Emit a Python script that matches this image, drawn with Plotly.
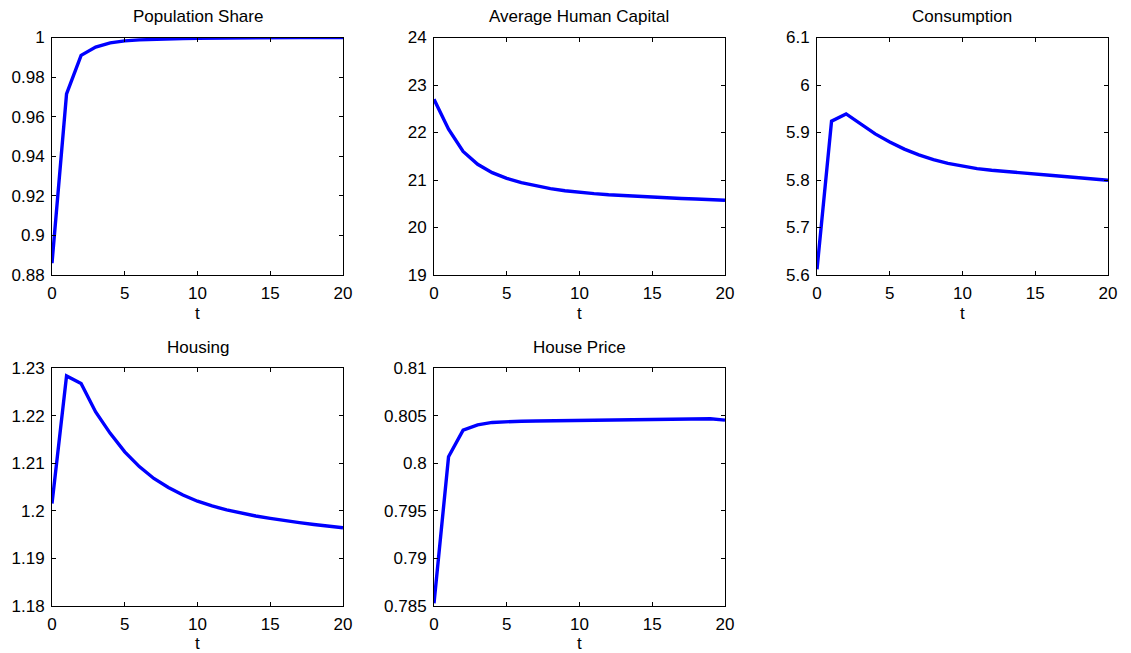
import plotly.graph_objects as go

# page is 1131x653; the browser body margin puts the figure at (8, 8)
PAGE_W, PAGE_H = 1131, 653
OFF = 8
W, H = PAGE_W - OFF, PAGE_H - OFF

t = list(range(21))

population_share = [0.886, 0.9715, 0.9910, 0.9952, 0.9973, 0.9983, 0.9988, 0.99915, 0.9994, 0.9995,
                    0.9996, 0.9997, 0.99975, 0.9998, 0.99985, 0.9999, 0.9999, 0.99995, 0.99995, 1.0, 1.0]
human_capital = [22.70, 22.07, 21.60, 21.33, 21.155, 21.035, 20.943, 20.873, 20.818, 20.775,
                 20.740, 20.713, 20.690, 20.671, 20.655, 20.640, 20.626, 20.612, 20.599, 20.586, 20.574]
consumption = [5.612, 5.924, 5.939, 5.917, 5.897, 5.880, 5.865, 5.853, 5.843, 5.835,
               5.829, 5.824, 5.8205, 5.8175, 5.815, 5.8125, 5.810, 5.8075, 5.805, 5.802, 5.7994]
housing = [1.2015, 1.2284, 1.2268, 1.2208, 1.2163, 1.2124, 1.2093, 1.2068, 1.2049, 1.2033,
           1.2020, 1.2010, 1.2002, 1.1995, 1.1989, 1.1984, 1.1979, 1.1975, 1.1971, 1.1967, 1.1964]
house_price = [0.78525, 0.80068, 0.80349, 0.80405, 0.80430, 0.80440, 0.80443, 0.80445, 0.80447, 0.80449,
               0.80451, 0.80452, 0.80454, 0.80455, 0.80457, 0.80458, 0.80460, 0.80462, 0.80465, 0.80468, 0.80454]

titles = ["Population Share", "Average Human Capital", "Consumption", "Housing", "House Price"]
series = [population_share, human_capital, consumption, housing, house_price]

y_ranges = [[0.88, 1.0], [19, 24], [5.6, 6.1], [1.18, 1.23], [0.785, 0.81]]
y_tickvals = [
    [0.88, 0.90, 0.92, 0.94, 0.96, 0.98, 1.0],
    [19, 20, 21, 22, 23, 24],
    [5.6, 5.7, 5.8, 5.9, 6.0, 6.1],
    [1.18, 1.19, 1.20, 1.21, 1.22, 1.23],
    [0.785, 0.79, 0.795, 0.80, 0.805, 0.81],
]
y_ticktext = [
    ["0.88", "0.9", "0.92", "0.94", "0.96", "0.98", "1"],
    ["19", "20", "21", "22", "23", "24"],
    ["5.6", "5.7", "5.8", "5.9", "6", "6.1"],
    ["1.18", "1.19", "1.2", "1.21", "1.22", "1.23"],
    ["0.785", "0.79", "0.795", "0.8", "0.805", "0.81"],
]
x_tickvals = [0, 5, 10, 15, 20]
x_ticktext = ["0", "5", "10", "15", "20"]

# page-pixel boxes of the axes (left, right, top, bottom)
col_px = [(52, 343), (434, 725), (817, 1108)]
row_px = [(37.5, 275), (368.3, 605.7)]

FONT = "Liberation Sans, Arial, Helvetica, sans-serif"
FS = 17

fig = go.Figure()
annotations = []
layout = {}
for i, (title, ys) in enumerate(zip(titles, series)):
    r, c = divmod(i, 3)
    l, rr = col_px[c]
    top, bot = row_px[r]
    xd = [(l - OFF) / W, (rr - OFF) / W]
    yd = [1 - (bot - OFF) / H, 1 - (top - OFF) / H]
    n = i + 1
    xa = "x" if n == 1 else f"x{n}"
    ya = "y" if n == 1 else f"y{n}"
    fig.add_trace(go.Scatter(x=t, y=ys, mode="lines", line=dict(color="#0000ff", width=3.4),
                             xaxis=xa, yaxis=ya, showlegend=False, hoverinfo="skip"))
    common = dict(showline=True, linecolor="black", linewidth=1, mirror="ticks", ticks="inside",
                  ticklen=4, tickcolor="black", tickwidth=1, showgrid=False, zeroline=False,
                  automargin=False, ticklabelstandoff=3,
                  tickfont=dict(family=FONT, size=FS, color="black"))
    layout["xaxis" if n == 1 else f"xaxis{n}"] = dict(
        domain=xd, range=[0, 20], tickvals=x_tickvals, ticktext=x_ticktext,
        anchor=ya, **common)
    layout["yaxis" if n == 1 else f"yaxis{n}"] = dict(
        domain=yd, range=y_ranges[i], tickvals=y_tickvals[i], ticktext=y_ticktext[i],
        anchor=xa, **common)
    annotations.append(dict(text=title, xref="paper", yref="paper", x=(xd[0] + xd[1]) / 2, y=yd[1],
                            xanchor="center", yanchor="bottom", yshift=9, showarrow=False,
                            font=dict(family=FONT, size=FS, color="black")))
    annotations.append(dict(text="t", xref="paper", yref="paper", x=(xd[0] + xd[1]) / 2, y=yd[0],
                            xanchor="center", yanchor="middle", yshift=-38, showarrow=False,
                            font=dict(family=FONT, size=FS, color="black")))

fig.update_layout(**layout)
fig.update_layout(width=W, height=H, margin=dict(l=0, r=0, t=0, b=0, autoexpand=False),
                  paper_bgcolor="white", plot_bgcolor="white", annotations=annotations)

fig.write_html("out.html")
